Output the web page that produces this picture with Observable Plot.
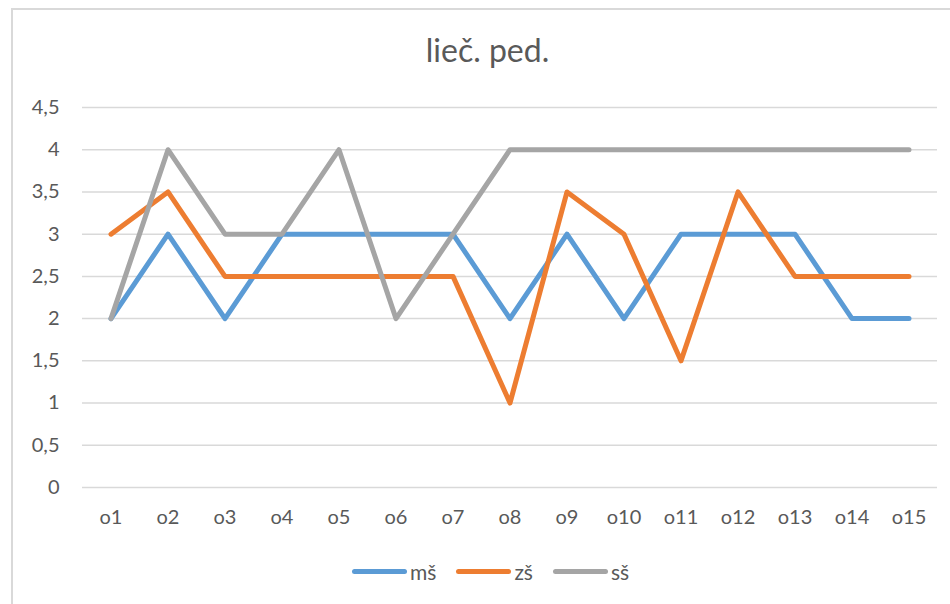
<!DOCTYPE html>
<html>
<head>
<meta charset="utf-8">
<script src="https://cdn.jsdelivr.net/npm/d3@7"></script>
<script src="https://cdn.jsdelivr.net/npm/@observablehq/plot@0.6"></script>
<style>
  html, body { margin: 0; padding: 0; background: #fff; }
  #wrap { position: relative; width: 950px; height: 604px; overflow: hidden; font-family: Lato, "Open Sans", sans-serif; }
  #frame { position: absolute; left: 11px; top: 8px; width: 960px; height: 620px; border: 2px solid #d9d9d9; box-sizing: border-box; }
  #chart { position: absolute; left: 0; top: 0; }
  #title { position: absolute; left: 0; width: 975px; top: 30px; text-align: center; font-size: 32px; color: #595959; }
  #legend { position: absolute; top: 559px; left: 352px; display: flex; align-items: center; font-size: 21px; color: #595959; }
  .item { display: flex; align-items: center; margin-right: 20px; }
  .sw { width: 55px; height: 5px; border-radius: 3px; margin-right: 3px; }
</style>
</head>
<body>
<div id="wrap">
  <div id="frame"></div>
  <div id="chart"></div>
  <div id="title">lieč. ped.</div>
  <div id="legend"></div>
</div>
<script>
const categories = ["o1","o2","o3","o4","o5","o6","o7","o8","o9","o10","o11","o12","o13","o14","o15"];
const seriesNames = ["mš","zš","sš"];
const ms = [2,3,2,3,3,3,3,2,3,2,3,3,3,2,2];
const zs = [3,3.5,2.5,2.5,2.5,2.5,2.5,1,3.5,3,1.5,3.5,2.5,2.5,2.5];
const ss = [2,4,3,3,4,2,3,4,4,4,4,4,4,4,4];
const yTicks = [0,0.5,1,1.5,2,2.5,3,3.5,4,4.5];
const colors = ["#5b9bd5","#ed7d31","#a5a5a5"];

const allSeries = [ms, zs, ss];
const data = [];
allSeries.forEach((vals, si) => {
  vals.forEach((v, i) => data.push({series: seriesNames[si], cat: categories[i], value: v}));
});

const fmt = v => String(v).replace(".", ",");

const chart = Plot.plot({
  width: 950,
  height: 604,
  marginLeft: 82,
  marginRight: 13,
  marginTop: 107,
  marginBottom: 117,
  style: {fontFamily: "Lato, 'Open Sans', sans-serif", fontSize: "20px", color: "#595959", background: "transparent"},
  x: {type: "band", domain: categories, padding: 0, label: null, tickSize: 0, tickPadding: 22},
  y: {domain: [0, 4.5], ticks: yTicks, tickFormat: fmt, label: null, tickSize: 0, tickPadding: 23},
  color: {domain: seriesNames, range: colors},
  marks: [
    Plot.gridY(yTicks, {stroke: "#d9d9d9", strokeOpacity: 1, strokeWidth: 1.5}),
    Plot.axisY({ticks: yTicks, tickFormat: fmt, tickSize: 0, tickPadding: 23, label: null, fontSize: 20}),
    Plot.axisX({tickSize: 0, tickPadding: 22, label: null, fontSize: 20}),
    Plot.line(data, {x: "cat", y: "value", z: "series", stroke: "series", strokeWidth: 5, strokeLinejoin: "round", strokeLinecap: "round"})
  ]
});
document.getElementById("chart").appendChild(chart);

const legend = document.getElementById("legend");
seriesNames.forEach((n, i) => {
  const it = document.createElement("div");
  it.className = "item";
  const sw = document.createElement("div");
  sw.className = "sw";
  sw.style.background = colors[i];
  const t = document.createElement("span");
  t.textContent = n;
  it.appendChild(sw); it.appendChild(t);
  legend.appendChild(it);
});
</script>
</body>
</html>
